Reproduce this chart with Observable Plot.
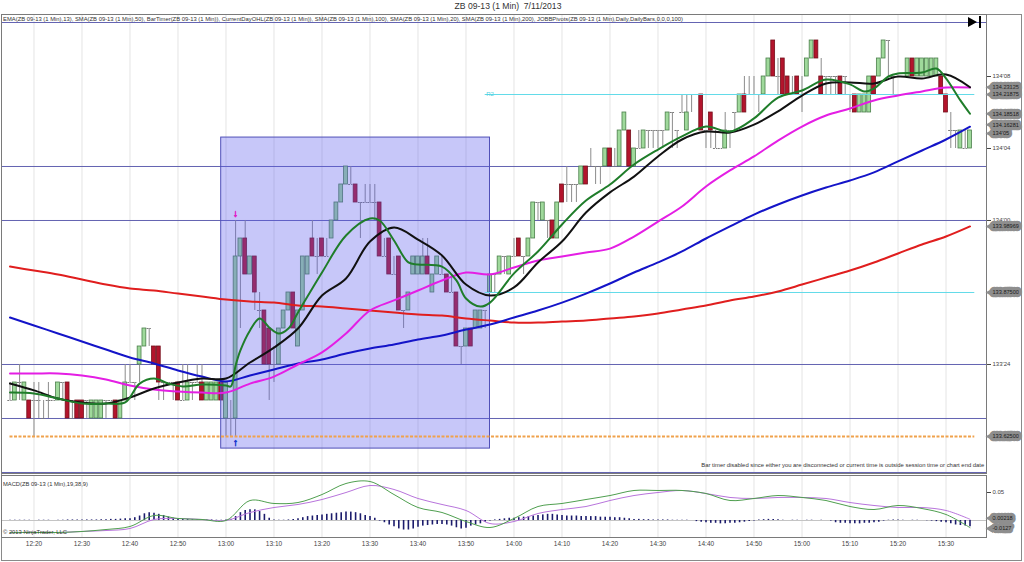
<!DOCTYPE html>
<html><head><meta charset="utf-8">
<script src="https://cdn.jsdelivr.net/npm/d3@7"></script>
<script src="https://cdn.jsdelivr.net/npm/@observablehq/plot@0.6"></script>
<style>
body{margin:0;background:#fff;font-family:"Liberation Sans",Arial,sans-serif;}
#wrap{position:relative;width:1024px;height:562px;overflow:hidden;background:#fff;}
#outer{position:absolute;left:1px;top:14px;width:1021px;height:547px;border:1px solid #8a8a8a;box-sizing:border-box;}
#main{position:absolute;left:0;top:14px;}
#macd{position:absolute;left:0;top:474px;}
.lbl{position:absolute;white-space:nowrap;color:#333;line-height:1;}
#title{left:0;width:1016px;top:2px;text-align:center;font-size:8.6px;color:#333;}
#ind{left:3px;top:16px;font-size:6px;transform-origin:left center;}
#macdlbl{left:3px;top:482px;font-size:5.8px;transform-origin:left center;}
#copy{left:3px;top:530px;font-size:5.8px;transform-origin:left center;}
#timer{right:40px;top:463px;font-size:5.6px;transform-origin:right center;}
#tri{position:absolute;left:968px;top:17px;width:0;height:0;border-top:5px solid transparent;border-bottom:5px solid transparent;border-left:9px solid #000;}
#bar{position:absolute;left:979px;top:16px;width:2px;height:12px;background:#000;}
</style></head><body>
<div id="wrap">
  <div id="outer"></div>
  <div id="main"></div>
  <div id="macd"></div>
  <div class="lbl" id="title">ZB 09-13 (1 Min)&nbsp; 7/11/2013</div>
  <div class="lbl" id="ind">EMA(ZB 09-13 (1 Min),13), SMA(ZB 09-13 (1 Min),50), BarTimer(ZB 09-13 (1 Min)), CurrentDayOHL(ZB 09-13 (1 Min)), SMA(ZB 09-13 (1 Min),100), SMA(ZB 09-13 (1 Min),20), SMA(ZB 09-13 (1 Min),200), JOBBPivots(ZB 09-13 (1 Min),Daily,DailyBars,0,0,0,100)</div>
  <div class="lbl" id="timer">Bar timer disabled since either you are disconnected or current time is outside session time or chart end date</div>
  <div class="lbl" id="macdlbl">MACD(ZB 09-13 (1 Min),19,38,9)</div>
  <div class="lbl" id="copy">© 2013 NinjaTrader, LLC</div>
  <div id="tri"></div><div id="bar"></div>
</div>
<script>
// ---------- DATA ----------
// 1-minute bars, first bar at 12:15; prices in 32nds relative to 134'00
const firstBar = "12:15";
const barOpen = [
-10,-10,-9,-10,-10,-10,-10,-11,-10,-10,
-10,-9,-9,-11,-10,-10,-10,-11,-11,-11,
-10,-10,-10,-11,-10,-9,-9,-8,-7,-6,
-7,-7,-9,-9,-9,-9,-10,-10,-9,-9,
-9,-10,-10,-10,-9,-11,-11,-11,-2,-1,
-3,-2,-5,-5,-6,-8,-8,-6,-5,-4,
-7,-5,-3,-1,-2,-1,-2,-1,0,1,
2,2,2,1,1,1,1,1,-2,-1,
-3,-2,-5,-5,-3,-3,-3,-2,-4,-3,
-3,-3,-4,-4,-7,-7,-6,-6,-6,-5,
-4,-3,-3,-2,-3,-2,-1,-2,-2,-1,
1,0,0,0,-1,2,2,2,2,2,
3,3,3,3,3,4,3,3,5,5,
3,4,4,5,5,5,5,5,6,5,
6,5,7,7,7,5,6,4,4,4,
5,6,6,7,7,7,7,7,8,10,
8,9,8,7,8,7,8,9,10,8,
8,8,8,8,8,7,7,6,6,6,
8,8,9,10,8,8,8,8,9,8,
8,8,8,8,8,7,5,5,4,4,4];
const barClose = [
-10,-9,-9,-9,-11,-10,-10,-11,-10,-10,
-9,-9,-11,-11,-11,-11,-10,-10,-10,-10,
-10,-10,-11,-10,-9,-9,-9,-7,-6,-6,
-8,-9,-9,-9,-9,-10,-10,-9,-9,-9,
-10,-9,-9,-9,-10,-9,-11,-2,-1,-3,
-2,-4,-5,-8,-8,-8,-6,-5,-4,-6,
-5,-2,-2,-2,-2,-2,-2,0,1,2,
3,2,1,1,1,1,1,-2,-2,-3,
-3,-5,-5,-4,-2,-2,-2,-3,-3,-2,
-3,-4,-4,-7,-7,-6,-7,-5,-5,-5,
-3,-3,-2,-2,-2,-2,-2,-2,-1,1,
1,1,0,-1,1,1,2,2,2,3,
2,3,3,3,4,3,3,5,6,3,
4,4,5,5,5,5,5,6,6,5,
6,6,7,7,5,5,5,4,4,5,
5,6,7,6,7,7,7,8,9,8,
8,7,7,7,7,7,9,10,9,7,
8,8,8,7,8,7,6,7,7,8,
7,9,10,10,8,8,8,9,8,9,
9,9,9,9,7,6,5,5,5,4,5];
const barHigh = [
-9,-9,-8,-9,-10,-9,-9,-10,-9,-10,
-9,-9,-9,-10,-10,-10,-10,-10,-10,-10,
-10,-10,-10,-10,-8,-8,-9,-7,-6,-6,
-7,-7,-9,-9,-9,-9,-8,-8,-9,-8,
-8,-9,-9,-9,-9,-9,-10,0,-1,0,
-2,-2,-4,-5,-6,-7,-6,-5,-4,-4,
-5,-2,-2,0,-1,-1,-1,0,1,2,
3,3,2,1,2,2,2,1,-1,-1,
-2,-2,-5,-4,-2,-2,-1,-1,-3,-2,
-2,-3,-3,-4,-7,-6,-6,-5,-5,-5,
-3,-3,-2,-2,-2,-1,-1,-2,-1,1,
1,1,0,0,1,2,3,2,2,3,
3,4,3,3,4,4,4,5,6,5,
4,5,5,5,5,5,5,6,6,5,
7,7,7,7,7,5,6,5,4,6,
5,6,7,8,8,8,7,8,9,10,
9,9,8,8,8,8,9,10,10,9,
8,8,8,8,8,7,7,7,7,8,
8,9,10,10,8,8,8,9,9,9,
9,9,9,9,8,7,6,5,5,5,5];
const barLow = [
-10,-10,-10,-10,-11,-12,-11,-11,-11,-10,
-10,-10,-11,-11,-11,-11,-11,-11,-11,-11,
-11,-10,-11,-11,-10,-9,-10,-9,-7,-7,
-8,-10,-10,-9,-10,-10,-10,-10,-10,-9,
-10,-10,-10,-10,-10,-12,-12,-12,-6,-3,
-3,-5,-6,-8,-10,-9,-8,-6,-5,-6,
-7,-5,-3,-2,-3,-2,-2,-1,0,1,
2,2,1,-1,1,1,0,-2,-2,-3,
-3,-5,-6,-5,-3,-3,-3,-3,-4,-3,
-3,-4,-4,-7,-8,-7,-7,-6,-6,-6,
-4,-4,-3,-3,-3,-2,-2,-3,-2,-1,
0,0,-1,-1,-1,1,1,1,1,2,
2,3,2,2,3,3,3,3,5,3,
3,4,4,4,4,4,4,5,4,4,
6,5,6,7,5,4,4,4,4,4,
4,5,6,6,7,7,6,7,8,8,
7,7,7,7,7,6,8,9,9,7,
7,7,7,7,7,6,6,6,6,6,
7,8,9,8,7,8,8,8,8,8,
8,8,8,8,7,6,4,4,4,4,4];

// moving averages (32nds relative to 134'00), sampled at minutes after 12:15
const maOffsets = [0,5,10,15,20,25,30,35,40,45,50,55,60,65,70,75,80,85,90,95,100,105,110,115,120,125,130,135,140,145,150,155,160,165,170,175,180,185,190,195,200];
const sma200 = [-2.56,-2.78,-3.00,-3.28,-3.56,-3.78,-3.89,-4.06,-4.22,-4.39,-4.50,-4.56,-4.72,-4.78,-4.89,-5.00,-5.11,-5.22,-5.28,-5.44,-5.56,-5.67,-5.67,-5.61,-5.56,-5.44,-5.33,-5.17,-4.94,-4.72,-4.44,-4.22,-3.94,-3.56,-3.17,-2.78,-2.33,-1.83,-1.33,-0.89,-0.33];
const sma100 = [-5.39,-5.83,-6.28,-6.72,-7.17,-7.61,-7.94,-8.33,-8.67,-8.94,-8.61,-8.28,-7.94,-7.72,-7.39,-7.11,-6.89,-6.61,-6.39,-6.06,-5.78,-5.39,-5.00,-4.56,-4.06,-3.50,-2.89,-2.33,-1.72,-1.00,-0.33,0.33,0.89,1.39,1.83,2.22,2.67,3.28,3.89,4.50,5.21];
const sma50 = [-8.50,-8.50,-8.50,-8.61,-8.83,-9.17,-9.39,-9.50,-9.56,-9.56,-9.06,-8.67,-8.00,-7.33,-6.28,-5.00,-4.44,-3.89,-3.33,-2.89,-3.00,-2.61,-2.22,-2.00,-1.78,-1.56,-0.89,-0.06,0.78,1.89,2.78,3.56,4.44,5.22,5.83,6.22,6.67,6.94,7.17,7.39,7.39];
const sma20 = [-9.06,-9.44,-9.89,-10.11,-10.17,-9.83,-9.33,-9.00,-8.78,-8.78,-7.89,-7.06,-6.00,-4.17,-3.22,-1.17,-0.39,-1.06,-1.94,-3.56,-4.17,-3.72,-2.33,-1.17,0.44,1.56,2.44,3.56,4.50,4.94,4.89,5.33,6.06,6.94,7.61,7.67,7.61,8.00,7.89,8.11,7.40];
const emaOffsets = [0,5,10,15,20,24,27,30,33,36,40,45,46,47,48,50,52,54,56,58,60,65,70,75,77,80,83,85,90,93,95,98,100,105,110,115,120,125,130,135,140,145,150,155,160,165,170,175,178,180,183,185,190,193,195,198,200];
const ema13 = [-9.56,-9.61,-9.89,-10.17,-10.17,-10.11,-9.06,-8.78,-9.06,-9.22,-9.11,-9.17,-9.22,-8.06,-7.22,-6.11,-5.44,-5.94,-6.28,-6.00,-5.11,-2.89,-0.83,0.11,0.00,-1.11,-2.33,-2.44,-2.56,-3.33,-4.33,-4.78,-4.56,-2.94,-1.72,-0.22,1.11,2.00,3.11,3.94,4.67,5.22,4.94,5.67,6.83,7.22,7.83,7.56,7.17,7.33,8.00,8.17,8.22,8.44,7.89,6.67,5.93];

// MACD(19,38,9) at maOffsets; histogram per bar in thousandths
const macdLine = [-0.0214,-0.0214,-0.0214,-0.0196,-0.0161,-0.0107,0.0089,0.0036,0.0018,0.0000,0.0357,0.0304,0.0321,0.0464,0.0661,0.0696,0.0464,0.0232,0.0143,-0.0018,-0.0125,0.0036,0.0250,0.0304,0.0375,0.0446,0.0536,0.0536,0.0536,0.0482,0.0357,0.0393,0.0446,0.0411,0.0357,0.0250,0.0196,0.0268,0.0214,0.0107,-0.0127];
const macdSignal = [-0.0214,-0.0214,-0.0214,-0.0196,-0.0179,-0.0143,0.0018,0.0036,0.0018,0.0000,0.0143,0.0232,0.0286,0.0375,0.0500,0.0625,0.0554,0.0393,0.0286,0.0179,-0.0054,-0.0018,0.0125,0.0196,0.0250,0.0357,0.0446,0.0500,0.0536,0.0482,0.0411,0.0393,0.0411,0.0411,0.0393,0.0321,0.0268,0.0232,0.0232,0.0179,0.0022];
const macdHistMilli = [
0.5,0.5,0.5,0.5,0.5,
0,0.5,0.5,0.5,0,0.5,0.5,
1,1,1,1,1,1,1,
1.5,1.5,2,2,2.5,3,3,
5,8,12,14,13,11,9,6,4,3,
2,2,1.5,1.5,1,1,1,0.5,0.5,
1,2,7,14,18,19,19,16,11,4,1,
0.5,0.5,1,
2,3,5,7,8,9,10,11,12,13,14,15,15,14,12,9,7,4,
-1,-4,-8,-11,-15,-17,-17,-15,-12,-10,-9,-8,-7,-7,-8,-10,-13,-15,-14,-10,-8,-6,-3,-1,
1,2,3,4,4,5,6,7,8,9,10,11,11,10,9,
8,8,8,7,7,7,7,6,6,6,5,5,4,
3,2,2,1.5,1.5,1,1,1,1,0.5,0.5,0.5,0.5,0,
-2,-3,-4,-5,-5,-6,-6,-5,-5,-4,-3,-2,-1,
1,1.5,2,2,1.5,0.5,0,0.5,0.5,0,0.5,0.5,0,0.5,0,-1,
-4,-5,-5,-6,-6,-6,-5,-5,-4,-3,
-1,0.5,1,1,0.5,0,0.5,0.5,0,-0.5,-1,-2,
-3,-4,-6,-8,-9,-10,-11];

// price levels
const dayLevels = [134.34375, 134.09375, 134.0, 133.75, 133.65625, 133.5625];
const pivotLevels = [{name: "R2", price: 134.21875, label: "R2"}, {name: "PP", price: 133.875, label: ""}];
const pivotStart = "13:54", levelEnd = "15:36";
const orangeLevel = 133.625, orangeStart = "12:15";
const boxRegion = {start: "12:59", end: "13:55", high: 134.144, low: 133.604};
const signalBar = "13:02";
const priceTicks = [133.75, 134.0, 134.125, 134.25];
const priceMarkers = [
  {price: 134.23125, label: "134.23125", nudge: 0},
  {price: 134.21875, label: "134.21875", nudge: 0},
  {price: 134.18518, label: "134.18518", nudge: 0},
  {price: 134.16281, label: "134.16281", nudge: -2},
  {price: 134.15625, label: "134'05", nudge: 3},
  {price: 133.98969, label: "133.98969", nudge: 0},
  {price: 133.875, label: "133.87500", nudge: 0},
  {price: 133.625, label: "133.62500", nudge: 0}];
const macdMarkers = [{v: 0.00218, label: "0.00218", nudge: -1}, {v: -0.0127, label: "-0.0127", nudge: 1}];
const macdTicks = [0.05];
const timeTicks = ["12:20","12:30","12:40","12:50","13:00","13:10","13:20","13:30","13:40","13:50","14:00","14:10","14:20","14:30","14:40","14:50","15:00","15:10","15:20","15:30"];

// ---------- BUILD ----------
const toMin = s => { const [h, m] = s.split(":").map(Number); return h * 60 + m; };
const fmtTime = m => `${Math.floor(m / 60)}:${String(m % 60).padStart(2, "0")}`;
const p32 = k => 134 + k / 32;
const fmt32 = p => { const w = Math.floor(p + 1e-9); return `${w}'${String(Math.round((p - w) * 32)).padStart(2, "0")}`; };
const t0 = toMin(firstBar);
const bars = barOpen.map((o, i) => ({t: t0 + i, o: p32(o), c: p32(barClose[i]), h: p32(barHigh[i]), l: p32(barLow[i])}));
const up = bars.filter(d => d.c > d.o), down = bars.filter(d => d.c < d.o), doji = bars.filter(d => d.c === d.o);
const series = (offs, vals) => offs.map((o, i) => ({t: t0 + o, p: p32(vals[i])}));
const xTicks = timeTicks.map(toMin);
const xDomain = [733.2292, 938.4375];
const W = 1024, mL = 1, mR = 38;
const font = {fontFamily: "'Liberation Sans', Arial, sans-serif", fontSize: "6px", color: "#444", background: "transparent", overflow: "visible"};

const pStart = toMin(pivotStart), lEnd = toMin(levelEnd);
const sig = bars.find(d => d.t === toMin(signalBar));

// price-marker flags: one text mark per marker so each can carry its small vertical nudge
const flagMarks = (list, yKey) => list.flatMap(m => [
  Plot.dot([m], {x: () => xDomain[1], y: yKey, dx: 4, dy: m.nudge, symbol: "triangle", r: 3.2, rotate: -90, fill: "#8e8e8e"}),
  Plot.text([m], {x: () => xDomain[1], y: yKey, text: "label", dx: 6, dy: m.nudge, textAnchor: "start", fontSize: 5.6, fill: "#1a1a1a", stroke: "#8e8e8e", strokeWidth: 6.5})
]);

const main = Plot.plot({
  width: W, height: 459, marginLeft: mL, marginRight: mR, marginTop: 0, marginBottom: 0,
  style: font,
  x: {domain: xDomain, axis: null},
  y: {domain: [133.56076, 134.35764], axis: null},
  marks: [
    Plot.gridX(xTicks, {stroke: "#e4e4e4", strokeOpacity: 1}),
    Plot.ruleY(dayLevels, {stroke: "#6464b2", strokeWidth: 1}),
    Plot.ruleX(bars, {x: "t", y1: "l", y2: "h", stroke: "#8c8c8c", strokeWidth: 1}),
    Plot.rect(up, {x1: d => d.t - 0.4, x2: d => d.t + 0.4, y1: "o", y2: "c", fill: "#9fd99b", stroke: "#4b7f4b", strokeWidth: 0.8}),
    Plot.rect(down, {x1: d => d.t - 0.4, x2: d => d.t + 0.4, y1: "o", y2: "c", fill: "#b3142c", stroke: "#74101c", strokeWidth: 0.8}),
    Plot.ruleY(doji, {y: "o", x1: d => d.t - 0.45, x2: d => d.t + 0.45, stroke: "#7a7a7a", strokeWidth: 1, strokeDasharray: "2,1"}),
    Plot.rect([boxRegion], {x1: d => toMin(d.start), x2: d => toMin(d.end), y1: "low", y2: "high", fill: "#5a5aee", fillOpacity: 0.34, stroke: "#5050b8", strokeWidth: 1}),
    Plot.ruleY(pivotLevels, {y: "price", x1: () => pStart, x2: () => lEnd, stroke: "#63dbe9", strokeWidth: 1}),
    Plot.text(pivotLevels, {x: () => pStart, y: "price", text: "label", fill: "#4fcfe0", fontSize: 6, textAnchor: "start", dx: 1}),
    Plot.ruleY([orangeLevel], {x1: () => toMin(orangeStart), x2: () => lEnd, stroke: "#f0a24c", strokeWidth: 2, strokeDasharray: "3,1.5"}),
    Plot.line(series(maOffsets, sma200), {x: "t", y: "p", stroke: "#e01e1e", strokeWidth: 2, curve: "catmull-rom"}),
    Plot.line(series(maOffsets, sma100), {x: "t", y: "p", stroke: "#1414c8", strokeWidth: 2, curve: "catmull-rom"}),
    Plot.line(series(maOffsets, sma50), {x: "t", y: "p", stroke: "#e41ee4", strokeWidth: 2, curve: "catmull-rom"}),
    Plot.line(series(maOffsets, sma20), {x: "t", y: "p", stroke: "#111", strokeWidth: 2, curve: "catmull-rom"}),
    Plot.line(series(emaOffsets, ema13), {x: "t", y: "p", stroke: "#1f7d2a", strokeWidth: 2, curve: "catmull-rom"}),
    Plot.text([sig], {x: "t", y: "h", text: () => "↓", dy: -7, fill: "#e020c8", stroke: "#e020c8", strokeWidth: 0.7, fontSize: 10, fontWeight: "bold"}),
    Plot.text([sig], {x: "t", y: "l", text: () => "↑", dy: 6, fill: "#1a3ad0", stroke: "#1a3ad0", strokeWidth: 0.7, fontSize: 10, fontWeight: "bold"}),
    Plot.frame({stroke: "#7a7a7a"}),
    Plot.axisY({anchor: "right", ticks: priceTicks, tickFormat: fmt32, tickSize: 4, tickPadding: 2, fontSize: 6, label: null}),
    ...flagMarks(priceMarkers, "price")
  ]
});
document.getElementById("main").appendChild(main);

const hist = macdHistMilli.map((v, i) => ({t: t0 + i, v: v / 1000}));
const macdSeries = (vals) => maOffsets.map((o, i) => ({t: t0 + o, v: vals[i]}));
const macd = Plot.plot({
  width: W, height: 88, marginLeft: mL, marginRight: mR, marginTop: 1, marginBottom: 25,
  style: font,
  x: {domain: xDomain, axis: null},
  y: {domain: [-0.03036, 0.08036], axis: null},
  marks: [
    Plot.gridX(xTicks, {stroke: "#e4e4e4", strokeOpacity: 1}),
    Plot.ruleY([0], {stroke: "#c4c4c4"}),
    Plot.ruleX(hist, {x: "t", y1: () => 0, y2: "v", stroke: "#1c1c6c", strokeWidth: 1.6}),
    Plot.line(macdSeries(macdSignal), {x: "t", y: "v", stroke: "#b874dc", strokeWidth: 1, curve: "catmull-rom"}),
    Plot.line(macdSeries(macdLine), {x: "t", y: "v", stroke: "#4f9f4f", strokeWidth: 1, curve: "catmull-rom"}),
    Plot.frame({stroke: "#7a7a7a"}),
    Plot.axisX({ticks: xTicks, tickFormat: fmtTime, tickSize: 0, tickPadding: 4, fontSize: 6.5, label: null}),
    Plot.axisY({anchor: "right", ticks: macdTicks, tickFormat: d => d.toFixed(2), tickSize: 4, tickPadding: 2, fontSize: 6, label: null}),
    ...flagMarks(macdMarkers, "v")
  ]
});
document.getElementById("macd").appendChild(macd);

// fit small header/footer texts to their measured widths in the reference
function fit(id, target) {
  const el = document.getElementById(id);
  const w = el.getBoundingClientRect().width;
  if (w > 0) el.style.transform = `scaleX(${target / w})`;
}
fit("ind", 680); fit("timer", 283); fit("macdlbl", 85); fit("copy", 64);
</script>
</body></html>
